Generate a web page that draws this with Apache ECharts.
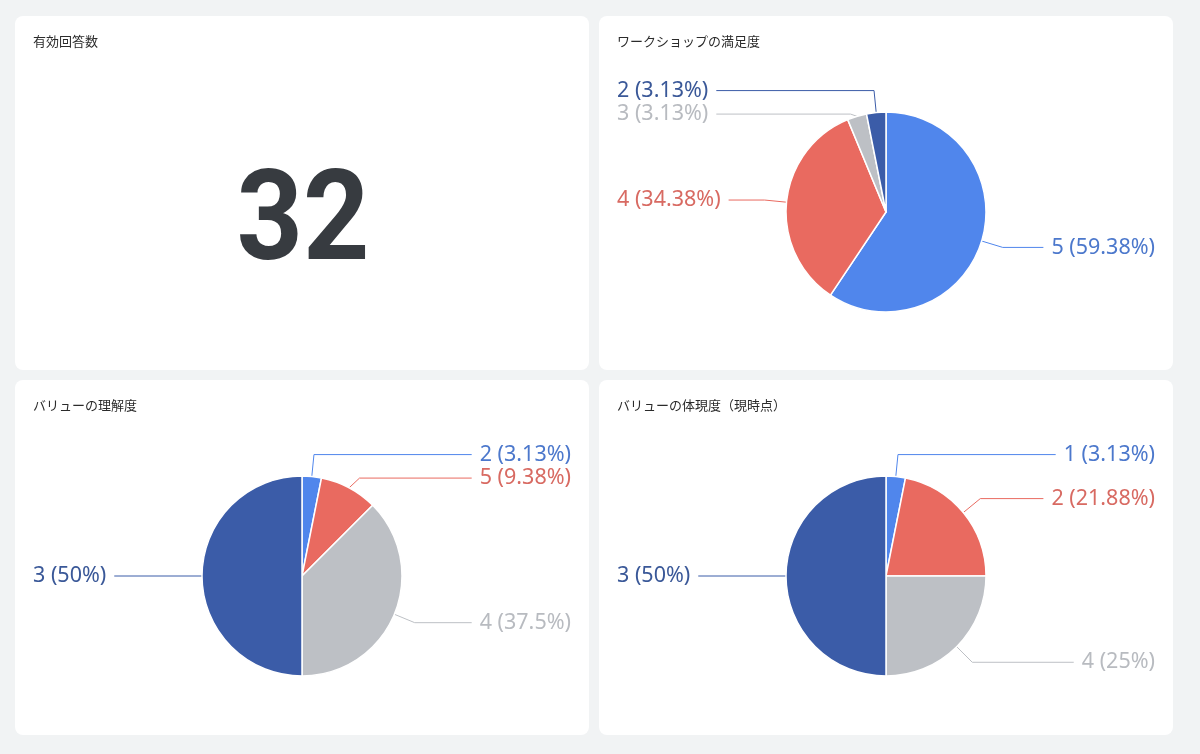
<!DOCTYPE html>
<html>
<head>
<meta charset="utf-8">
<script src="https://cdn.jsdelivr.net/npm/echarts@6/dist/echarts.min.js"></script>
<style>
  html, body { margin:0; padding:0; background:#f1f3f4; width:1200px; height:754px; overflow:hidden; }
  .card { position:absolute; background:#fff; border-radius:8px; }
  .card > div { width:100%; height:100%; }
</style>
</head>
<body>
<div class="card" style="left:15px;top:16px;width:574px;height:354px;"><div id="c1"></div></div>
<div class="card" style="left:599px;top:16px;width:574px;height:354px;"><div id="c2"></div></div>
<div class="card" style="left:15px;top:380px;width:574px;height:355px;"><div id="c3"></div></div>
<div class="card" style="left:599px;top:380px;width:574px;height:355px;"><div id="c4"></div></div>
<script>
// ---- data ----
const titleCount = '有効回答数';
const totalResponses = 32;

const titleSatisfaction = 'ワークショップの満足度';
const satisfactionNames = ['5', '4', '3', '2'];
const satisfactionValues = [19, 11, 1, 1];

const titleUnderstanding = 'バリューの理解度';
const understandingNames = ['2', '5', '4', '3'];
const understandingValues = [1, 3, 12, 16];

const titleEmbodiment = 'バリューの体現度（現時点）';
const embodimentNames = ['1', '2', '4', '3'];
const embodimentValues = [1, 7, 8, 16];

// ---- styles ----
const sliceColors = ['#5086ec', '#e96a60', '#bdc0c5', '#3b5ca8'];
const labelColors = ['#4c78cc', '#d86a62', '#b8bbc0', '#3a5898'];
const jpFont = '"Noto Sans CJK JP", "Noto Sans", sans-serif';
const numFont = '"Noto Sans", "Open Sans", "Noto Sans CJK JP", sans-serif';

function titleOpt(text) {
  return { text: text, left: 13, top: 14,
    textStyle: { fontSize: 13, fontWeight: 'normal', color: '#2b2b2b', fontFamily: jpFont } };
}

function fmtPct(v) { return String(+v.toFixed(2)); }

function pieOption(title, names, values) {
  const total = values.reduce((a, b) => a + b, 0);
  const data = names.map((n, i) => ({
    name: n, value: values[i],
    itemStyle: { color: sliceColors[i] },
    label: { color: labelColors[i] }
  }));
  return {
    animation: false,
    title: titleOpt(title),
    series: [{
      type: 'pie',
      center: [287, 196],
      radius: 100,
      startAngle: 90,
      clockwise: true,
      avoidLabelOverlap: true,
      itemStyle: { borderColor: '#fff', borderWidth: 1.5 },
      label: {
        show: true,
        alignTo: 'edge',
        edgeDistance: 18,
        distanceToLabelLine: 8,
        fontSize: 21.5,
        fontFamily: numFont,
        formatter: p => p.name + ' (' + fmtPct(p.value / total * 100) + '%)'
      },
      labelLine: { show: true, length: 22, length2: 20, lineStyle: { width: 1 } },
      emphasis: { disabled: true },
      data: data
    }]
  };
}

// card 1: big number
const ch1 = echarts.init(document.getElementById('c1'));
ch1.setOption({
  animation: false,
  title: titleOpt(titleCount),
  graphic: [{
    type: 'text',
    x: 288, y: 211,
    scaleX: 0.92,
    style: {
      text: String(totalResponses),
      align: 'center', verticalAlign: 'middle',
      font: 'bold 126px Roboto, "Liberation Sans", sans-serif',
      fill: '#373b40'
    }
  }]
});

const ch2 = echarts.init(document.getElementById('c2'));
ch2.setOption(pieOption(titleSatisfaction, satisfactionNames, satisfactionValues));
const ch3 = echarts.init(document.getElementById('c3'));
ch3.setOption(pieOption(titleUnderstanding, understandingNames, understandingValues));
const ch4 = echarts.init(document.getElementById('c4'));
ch4.setOption(pieOption(titleEmbodiment, embodimentNames, embodimentValues));
</script>
</body>
</html>
